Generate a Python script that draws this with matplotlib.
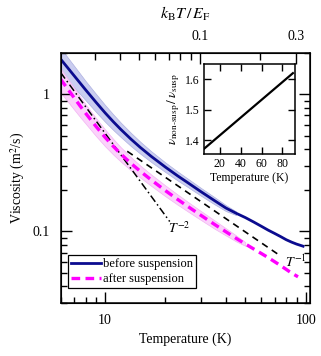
import numpy as np
import matplotlib
matplotlib.use('Agg')
import matplotlib.pyplot as plt
from matplotlib.ticker import FixedLocator, NullFormatter, LogLocator

plt.rcParams['font.family'] = 'serif'
plt.rcParams['font.serif'] = ['Liberation Serif', 'DejaVu Serif']
plt.rcParams['mathtext.fontset'] = 'stix'
plt.rcParams['font.size'] = 10

# viscosity before suspension (m^2/s) vs temperature (K)
T_before = [6, 6.5, 7, 7.5, 8, 9, 10, 11, 12, 13.5, 15, 17, 20, 23, 26, 30, 35, 40,
            45, 50, 55, 60, 65, 70, 75, 80, 85, 90, 97]
v_before = [1.81, 1.567, 1.371, 1.211, 1.078, 0.877, 0.733, 0.630, 0.553, 0.469, 0.409, 0.352,
            0.294, 0.254, 0.225, 0.195, 0.168, 0.148, 0.1355, 0.126, 0.117, 0.109, 0.102,
            0.0965, 0.0915, 0.0868, 0.0834, 0.0807, 0.0779]
err_before = [0.2, 0.19, 0.18, 0.17, 0.16, 0.15, 0.14, 0.13, 0.12, 0.11, 0.1, 0.09,
              0.08, 0.075, 0.07, 0.065, 0.06, 0.05, 0.03, 0, 0, 0, 0, 0, 0, 0, 0, 0, 0]

# viscosity after suspension
T_after = [6, 6.5, 7, 7.5, 8, 9, 10, 11, 12, 13.5, 15, 17, 20, 23, 26, 30, 35, 40,
           45, 50, 55, 60, 65, 70, 75, 80, 85, 91.5]
v_after = [1.29, 1.099, 0.947, 0.825, 0.728, 0.585, 0.486, 0.417, 0.366, 0.312, 0.274, 0.237,
           0.198, 0.171, 0.151, 0.131, 0.1127, 0.0993, 0.0889, 0.0809, 0.0744, 0.0690, 0.0643,
           0.0600, 0.0562, 0.0527, 0.0496, 0.0466]
err_after = [0.2, 0.19, 0.18, 0.17, 0.16, 0.15, 0.14, 0.13, 0.12, 0.11, 0.1, 0.095,
             0.09, 0.085, 0.08, 0.075, 0.07, 0.06, 0.05, 0.03, 0, 0, 0, 0, 0, 0, 0, 0]

# power law guides
T_m1 = [12.9, 74.5]
A_m1 = 4.95
T_m2 = [6, 21]
A_m2 = 52

# inset: ratio of viscosities
T_ratio = [5, 90]
ratio = [1.372, 1.62]

T_F = 297.0  # K, for the k_B T / E_F axis

fig = plt.figure(figsize=(3.21, 3.56), dpi=100)
ax = fig.add_axes([60.5/321, 53/356, 249.5/321, 250/356])

navy = '#0b0b8f'
mag = '#ff00ff'

tb = np.array(T_before); vb = np.array(v_before); eb = np.array(err_before)
m = eb > 0
ax.fill_between(tb[m], vb[m]*(1-eb[m]), vb[m]*(1+eb[m]), color='#cacdf0', lw=0.5, edgecolor='#aeb1e0', zorder=1)
ta = np.array(T_after); va = np.array(v_after); ea = np.array(err_after)
m = ea > 0
ax.fill_between(ta[m], va[m]*(1-ea[m]), va[m]*(1+ea[m]), color='#fbd2fb', lw=0.5, edgecolor='#f2b4f2', zorder=1)

ax.plot(T_before, v_before, color=navy, lw=2.0, label='before suspension', zorder=4)
ax.plot(T_after, v_after, color=mag, lw=2.4, ls=(0, (2.6, 1.6)), label='after suspension', zorder=4)

t1 = np.array(T_m1)
ax.plot(t1, A_m1/t1, color='k', lw=1.2, ls=(0, (4, 3)), zorder=3)
t2 = np.array(T_m2)
ax.plot(t2, A_m2/t2**2, color='k', lw=1.1, ls=(0, (5, 2, 1, 2)), zorder=3)
ax.text(78.5, 0.0595, r'$T^{-1}$', fontsize=10, ha='left', va='center')
ax.text(20.5, 0.105, r'$T^{-2}$', fontsize=10, ha='left', va='center')

ax.set_xscale('log')
ax.set_yscale('log')
ax.set_xlim(6, 105)
ax.set_ylim(0.03, 2.0)
ax.set_xticks([10, 100])
ax.set_xticklabels(['10', '100'])
ax.set_yticks([0.1, 1])
ax.set_yticklabels(['0.1', '1'])
ax.yaxis.set_minor_locator(LogLocator(base=10, subs=np.arange(2, 10)))
ax.yaxis.set_minor_formatter(NullFormatter())
ax.xaxis.set_minor_formatter(NullFormatter())
ax.tick_params(which='both', direction='in', top=False, right=True, width=1)
ax.tick_params(which='major', length=8, pad=8)
ax.tick_params(which='minor', length=4.5)
ax.set_xlabel('Temperature (K)', labelpad=4)
ax.set_ylabel('Viscosity (m$^2$/s)', labelpad=4)
for s in ax.spines.values():
    s.set_linewidth(1.1)

leg = ax.legend(loc='lower left', bbox_to_anchor=(0.03, 0.06), fancybox=False, edgecolor='k',
                framealpha=1, fontsize=9, handlelength=2.4, handletextpad=0.15, borderpad=0.25,
                labelspacing=0.2, borderaxespad=0)
leg.get_frame().set_linewidth(0.9)

# top axis: k_B T / E_F
ax2 = ax.twiny()
ax2.set_xscale('log')
ax2.set_xlim(6/T_F, 105/T_F)
ax2.xaxis.set_major_locator(FixedLocator([0.1, 0.3]))
ax2.set_xticklabels(['0.1', '0.3'])
ax2.xaxis.set_minor_locator(FixedLocator([0.03, 0.04, 0.05, 0.06, 0.07, 0.08, 0.09, 0.2]))
ax2.xaxis.set_minor_formatter(NullFormatter())
ax2.tick_params(which='both', direction='in', width=1)
ax2.tick_params(which='major', length=8, pad=7)
ax2.tick_params(which='minor', length=5)
ax2.set_xlabel(r'$k_{\rm B}T\,/\,E_{\rm F}$', fontsize=11.5, labelpad=8)

# inset
axi = fig.add_axes([204/321, (356-154)/356, 91/321, 90/356])
axi.plot(T_ratio, ratio, color='k', lw=1.6)
axi.set_xlim(5, 92)
axi.set_ylim(1.355, 1.65)
axi.set_xticks([20, 40, 60, 80])
axi.set_yticks([1.4, 1.5, 1.6])
axi.tick_params(which='both', direction='in', top=True, right=True, labelsize=8.5, length=5, width=1, pad=3)
axi.set_xlabel('Temperature (K)', fontsize=8.5, labelpad=1)
axi.set_ylabel(r'$\nu_{\rm non\text{-}susp}\,/\,\nu_{\rm susp}$', fontsize=9.5, labelpad=2)
for s in axi.spines.values():
    s.set_linewidth(1.1)

fig.savefig('out.png', dpi=100)
